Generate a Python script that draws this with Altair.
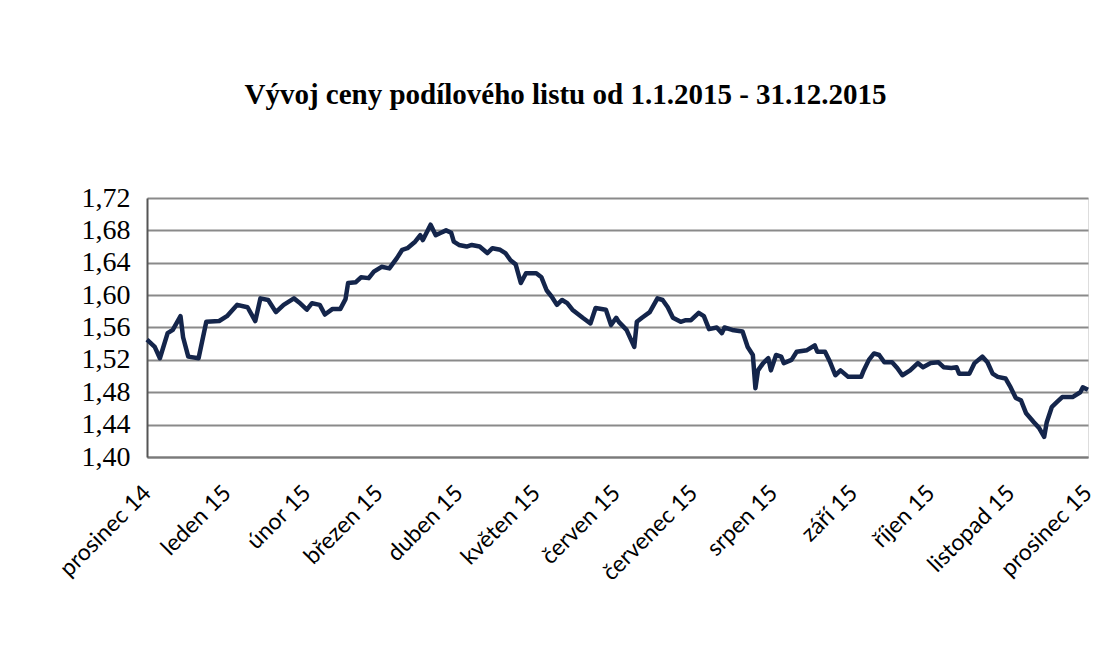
import altair as alt
import pandas as pd

dates = [
    "2014-12-01", "2014-12-04", "2014-12-06", "2014-12-09", "2014-12-11", "2014-12-14",
    "2014-12-15", "2014-12-17", "2014-12-21", "2014-12-24", "2014-12-29",
    "2015-01-01", "2015-01-05", "2015-01-09", "2015-01-12", "2015-01-14", "2015-01-17",
    "2015-01-20", "2015-01-23", "2015-01-27", "2015-01-29",
    "2015-02-01", "2015-02-03", "2015-02-06", "2015-02-08", "2015-02-11", "2015-02-14",
    "2015-02-16", "2015-02-17", "2015-02-20", "2015-02-22", "2015-02-25", "2015-02-27",
    "2015-03-02", "2015-03-05", "2015-03-08", "2015-03-10", "2015-03-12", "2015-03-15",
    "2015-03-17", "2015-03-18", "2015-03-21", "2015-03-23", "2015-03-25", "2015-03-27",
    "2015-03-29", "2015-03-30",
    "2015-04-01", "2015-04-04", "2015-04-06", "2015-04-09", "2015-04-12", "2015-04-14",
    "2015-04-17", "2015-04-19", "2015-04-21", "2015-04-23", "2015-04-25", "2015-04-27",
    "2015-05-01", "2015-05-03", "2015-05-05", "2015-05-07", "2015-05-09", "2015-05-11",
    "2015-05-13", "2015-05-15", "2015-05-19", "2015-05-22", "2015-05-24", "2015-05-28",
    "2015-05-30",
    "2015-06-01", "2015-06-02", "2015-06-05", "2015-06-08", "2015-06-09", "2015-06-11",
    "2015-06-14", "2015-06-17", "2015-06-19", "2015-06-21", "2015-06-23", "2015-06-26",
    "2015-06-28", "2015-06-30",
    "2015-07-03", "2015-07-05", "2015-07-07", "2015-07-10", "2015-07-12", "2015-07-13",
    "2015-07-16", "2015-07-20", "2015-07-22", "2015-07-24", "2015-07-25", "2015-07-26",
    "2015-07-28", "2015-07-30", "2015-07-31",
    "2015-08-02", "2015-08-04", "2015-08-05", "2015-08-08", "2015-08-10", "2015-08-14",
    "2015-08-17", "2015-08-18", "2015-08-21", "2015-08-23", "2015-08-25", "2015-08-27",
    "2015-08-30",
    "2015-09-04", "2015-09-05", "2015-09-07", "2015-09-09", "2015-09-11", "2015-09-13",
    "2015-09-16", "2015-09-18", "2015-09-20", "2015-09-23", "2015-09-26", "2015-09-28",
    "2015-10-01", "2015-10-04", "2015-10-06", "2015-10-09", "2015-10-11", "2015-10-12",
    "2015-10-16", "2015-10-18", "2015-10-21", "2015-10-23", "2015-10-25", "2015-10-27",
    "2015-10-30",
    "2015-11-01", "2015-11-03", "2015-11-05", "2015-11-07", "2015-11-10", "2015-11-12",
    "2015-11-14", "2015-11-15", "2015-11-17", "2015-11-19", "2015-11-21", "2015-11-25",
    "2015-11-28", "2015-11-29", "2015-12-01",
]

prices = [
    1.545, 1.536, 1.522, 1.553, 1.557, 1.574,
    1.548, 1.524, 1.522, 1.567, 1.568,
    1.574, 1.588, 1.585, 1.568, 1.596, 1.594,
    1.579, 1.588, 1.596, 1.591,
    1.582, 1.590, 1.588, 1.576, 1.583, 1.583,
    1.595, 1.615, 1.616, 1.622, 1.621, 1.629,
    1.635, 1.633, 1.646, 1.656, 1.658, 1.666,
    1.674, 1.668, 1.687, 1.674, 1.677, 1.680,
    1.677, 1.666,
    1.662, 1.660, 1.662, 1.660, 1.652, 1.658,
    1.656, 1.652, 1.643, 1.638, 1.615, 1.627,
    1.627, 1.622, 1.606, 1.598, 1.588, 1.594,
    1.590, 1.582, 1.572, 1.565, 1.584, 1.582,
    1.563,
    1.572, 1.567, 1.557, 1.536, 1.567, 1.572,
    1.579, 1.596, 1.594, 1.585, 1.572, 1.567,
    1.569, 1.569,
    1.578, 1.574, 1.558, 1.560, 1.553, 1.560,
    1.557, 1.555, 1.536, 1.526, 1.485, 1.507,
    1.516, 1.522, 1.507,
    1.526, 1.524, 1.516, 1.520, 1.530, 1.532,
    1.538, 1.530, 1.530, 1.517, 1.501, 1.507,
    1.499,
    1.499, 1.507, 1.520, 1.528, 1.526, 1.517,
    1.517, 1.510, 1.501, 1.507, 1.516, 1.511,
    1.516, 1.517, 1.511, 1.510, 1.511, 1.503,
    1.503, 1.516, 1.524, 1.517, 1.503, 1.499,
    1.497,
    1.486, 1.473, 1.470, 1.454, 1.443, 1.436,
    1.425, 1.443, 1.462, 1.468, 1.474, 1.474,
    1.480, 1.486, 1.483,
]

tick_years = [2014] + [2015] * 12
tick_months = [12, 1, 2, 3, 4, 5, 6, 7, 8, 9, 10, 11, 12]
month_names = ["leden", "únor", "březen", "duben", "květen", "červen", "červenec",
               "srpen", "září", "říjen", "listopad", "prosinec"]
y_ticks = [1.40, 1.44, 1.48, 1.52, 1.56, 1.60, 1.64, 1.68, 1.72]
title_text = "Vývoj ceny podílového listu od 1.1.2015 - 31.12.2015"

df = pd.DataFrame({"datum": dates, "cena": prices})

tick_values = [alt.DateTime(year=y, month=m, date=1, utc=True)
               for y, m in zip(tick_years, tick_months)]

names_js = "[" + ",".join("'" + n + "'" for n in month_names) + "]"
label_expr = names_js + "[utcmonth(datum.value)] + ' ' + utcFormat(datum.value, '%y')"

chart = alt.Chart(df).mark_line(color="#14254b", strokeWidth=4.5, strokeJoin="round").encode(
    x=alt.X(
        "datum:T",
        scale=alt.Scale(type="utc", domain=[tick_values[0], tick_values[-1]], nice=False),
        axis=alt.Axis(
            title=None, values=tick_values, labelExpr=label_expr, labelAngle=-45,
            labelAlign="right", labelBaseline="middle", labelPadding=32, ticks=False,
            grid=False, domainColor="#7a7a7a", domainWidth=2, labelFont="Lato",
            labelFontSize=23, labelColor="#000000", labelOverlap=False, labelFlush=False,
        ),
    ),
    y=alt.Y(
        "cena:Q",
        scale=alt.Scale(domain=[1.40, 1.72], nice=False, zero=False),
        axis=alt.Axis(
            title=None, values=y_ticks,
            labelExpr="replace(format(datum.value, '.2f'), '.', ',')",
            ticks=False, grid=True, gridColor="#8a8a8a", gridWidth=2,
            domainColor="#555555", domainWidth=2, labelPadding=17,
            labelFont="Liberation Serif", labelFontSize=28, labelColor="#000000",
        ),
    ),
).properties(
    width=941,
    height=259,
    autosize=alt.AutoSizeParams(type="none"),
    padding={"left": 139, "top": 190, "right": 17, "bottom": 186},
    title=alt.TitleParams(
        title_text, font="Liberation Serif", fontSize=29, fontWeight="bold",
        anchor="middle", dx=-52, offset=74, color="#000000",
    ),
).configure_view(
    stroke="#8a8a8a", strokeWidth=2
).configure(background="white")

chart.save("out.html", embed_options={"renderer": "svg", "actions": False})
